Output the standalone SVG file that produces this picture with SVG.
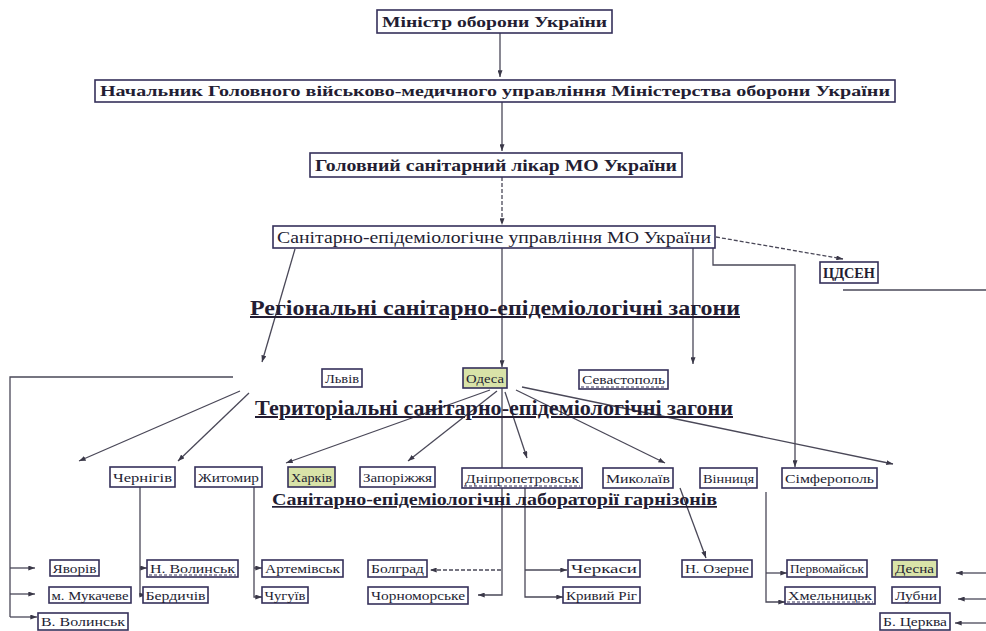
<svg xmlns="http://www.w3.org/2000/svg" width="986" height="631" viewBox="0 0 986 631">
<defs>
<marker id="ah" viewBox="0 0 8 6" refX="8" refY="3" markerWidth="7" markerHeight="5" markerUnits="userSpaceOnUse" orient="auto">
<path d="M0,0 L8,3 L0,6 z" fill="#3a3848"/>
</marker>
</defs>
<style>
.bx{fill:#ffffff;stroke:#35305a;stroke-width:1.6}
.hl{fill:#d9e3a8;stroke:#35305a;stroke-width:1.6}
.t{font-family:"Liberation Serif","DejaVu Serif",serif;fill:#231d33;text-anchor:middle}
.tb{font-weight:bold}
.h{font-family:"Liberation Serif","DejaVu Serif",serif;fill:#231d33;font-weight:bold;text-decoration:underline}
.ln{fill:none;stroke:#4a4858;stroke-width:1.3}
.ar{marker-end:url(#ah)}
.ds{stroke-dasharray:4,2}
.du{stroke:#35305a;stroke-width:1;stroke-dasharray:3,2}
</style>
<rect width="986" height="631" fill="#ffffff"/>

<g id="connectors">
<line class="ln ar" x1="500" y1="33" x2="500" y2="77"/>
<line class="ln ar" x1="502" y1="102" x2="502" y2="151"/>
<line class="ln ar ds" x1="502" y1="177" x2="502" y2="225"/>
<line class="ln ar" x1="295" y1="249" x2="262" y2="362"/>
<line class="ln ar" x1="502" y1="248" x2="502" y2="367"/>
<line class="ln ar" x1="693" y1="248" x2="693" y2="364"/>
<polyline class="ln ar" points="713,248 713,265 795,265 795,467"/>
<line class="ln ar ds" x1="716" y1="237" x2="843" y2="259"/>
<line class="ln" x1="843" y1="290" x2="986" y2="290"/>
<polyline class="ln" points="233,377 10,377 10,617"/>
<line class="ln ar" x1="10" y1="568" x2="35" y2="568"/>
<line class="ln ar" x1="10" y1="594" x2="35" y2="594"/>
<line class="ln ar" x1="10" y1="617" x2="37" y2="617"/>
<line class="ln ar" x1="240" y1="391" x2="79" y2="461"/>
<line class="ln ar" x1="249" y1="393" x2="178" y2="461"/>
<line class="ln ar" x1="490" y1="390" x2="286" y2="463"/>
<line class="ln ar" x1="497" y1="391" x2="408" y2="461"/>
<line class="ln ar" x1="505" y1="392" x2="527" y2="458"/>
<line class="ln ar" x1="516" y1="390" x2="665" y2="463"/>
<line class="ln ar" x1="522" y1="387" x2="893" y2="464"/>
<polyline class="ln ar" points="502,388 502,595 478,595"/>
<line class="ln ar ds" x1="501" y1="570" x2="430" y2="570"/>
<polyline class="ln ar" points="140,487 140,595 146,595"/>
<line class="ln ar" x1="140" y1="568" x2="147" y2="568"/>
<polyline class="ln ar" points="254,487 254,597 262,597"/>
<line class="ln ar" x1="254" y1="568" x2="262" y2="568"/>
<polyline class="ln ar" points="525,488 525,597 563,597"/>
<line class="ln ar" x1="525" y1="570" x2="567" y2="570"/>
<line class="ln ar" x1="680" y1="488" x2="706" y2="558"/>
<polyline class="ln ar" points="766,492 766,602 785,602"/>
<line class="ln ar" x1="766" y1="573" x2="787" y2="573"/>
<line class="ln ar" x1="986" y1="573" x2="956" y2="573"/>
<line class="ln ar" x1="986" y1="599" x2="958" y2="599"/>
<line class="ln ar" x1="986" y1="623" x2="955" y2="623"/>
</g>

<g id="n-minister"><rect class="bx" x="377" y="10" width="235" height="23"/><text class="t tb" x="494.5" y="27" font-size="15" textLength="225" lengthAdjust="spacingAndGlyphs">Міністр оборони України</text></g>
<g id="n-head"><rect class="bx" x="95" y="80" width="800" height="22"/><text class="t tb" x="495" y="96" font-size="15" textLength="790" lengthAdjust="spacingAndGlyphs">Начальник Головного військово-медичного управління Міністерства оборони України</text></g>
<g id="n-chief"><rect class="bx" x="310" y="153" width="372" height="24"/><text class="t tb" x="496" y="171" font-size="16" textLength="362" lengthAdjust="spacingAndGlyphs">Головний санітарний лікар МО України</text></g>
<g id="n-dept"><rect class="bx" x="273" y="226" width="442" height="22"/><text class="t" x="494" y="243" font-size="17" textLength="434" lengthAdjust="spacingAndGlyphs">Санітарно-епідеміологічне управління МО України</text></g>
<g id="n-cdsen"><rect class="bx" x="820" y="262" width="58" height="21"/><text class="t tb" x="849" y="278" font-size="14" textLength="52" lengthAdjust="spacingAndGlyphs">ЦДСЕН</text></g>

<g id="h-regional"><text class="h" x="250" y="315" font-size="20" textLength="490" lengthAdjust="spacingAndGlyphs">Регіональні санітарно-епідеміологічні загони</text></g>
<g id="h-territorial"><text class="h" x="255" y="415" font-size="20" textLength="478" lengthAdjust="spacingAndGlyphs">Територіальні санітарно-епідеміологічні загони</text></g>
<g id="h-labs"><text class="h" x="272" y="505" font-size="17" textLength="445" lengthAdjust="spacingAndGlyphs">Санітарно-епідеміологічні лабораторії гарнізонів</text></g>

<g id="n-lviv"><rect class="bx" x="322" y="369" width="40" height="18"/><text class="t" x="342" y="383" font-size="12" textLength="34" lengthAdjust="spacingAndGlyphs">Львів</text></g>
<g id="n-odesa"><rect class="hl" x="463" y="368" width="44" height="20"/><text class="t" x="485" y="383" font-size="12" textLength="38" lengthAdjust="spacingAndGlyphs">Одеса</text></g>
<g id="n-sevastopol"><rect class="bx" x="579" y="370" width="89" height="19"/><text class="t" x="623.5" y="384" font-size="12" textLength="83" lengthAdjust="spacingAndGlyphs">Севастополь</text><line class="du" x1="581" y1="387" x2="666" y2="387"/></g>

<g id="n-chernihiv"><rect class="bx" x="110" y="467" width="65" height="20"/><text class="t" x="142.5" y="482" font-size="13" textLength="59" lengthAdjust="spacingAndGlyphs">Чернігів</text></g>
<g id="n-zhytomyr"><rect class="bx" x="195" y="467" width="67" height="20"/><text class="t" x="228.5" y="482" font-size="13" textLength="61" lengthAdjust="spacingAndGlyphs">Житомир</text></g>
<g id="n-kharkiv"><rect class="hl" x="288" y="467" width="47" height="20"/><text class="t" x="311.5" y="482" font-size="13" textLength="41" lengthAdjust="spacingAndGlyphs">Харків</text></g>
<g id="n-zaporizhzhia"><rect class="bx" x="360" y="467" width="75" height="20"/><text class="t" x="397.5" y="482" font-size="13" textLength="69" lengthAdjust="spacingAndGlyphs">Запоріжжя</text></g>
<g id="n-dnipro"><rect class="bx" x="462" y="468" width="120" height="20"/><text class="t" x="522" y="483" font-size="13" textLength="114" lengthAdjust="spacingAndGlyphs">Дніпропетровськ</text><line class="du" x1="464" y1="486" x2="580" y2="486"/></g>
<g id="n-mykolaiv"><rect class="bx" x="603" y="468" width="70" height="20"/><text class="t" x="638" y="483" font-size="13" textLength="64" lengthAdjust="spacingAndGlyphs">Миколаїв</text></g>
<g id="n-vinnytsia"><rect class="bx" x="700" y="468" width="57" height="20"/><text class="t" x="728.5" y="483" font-size="13" textLength="51" lengthAdjust="spacingAndGlyphs">Вінниця</text></g>
<g id="n-simferopol"><rect class="bx" x="782" y="468" width="95" height="20"/><text class="t" x="829.5" y="483" font-size="13" textLength="89" lengthAdjust="spacingAndGlyphs">Сімферополь</text></g>

<g id="n-yavoriv"><rect class="bx" x="50" y="560" width="49" height="16"/><text class="t" x="74.5" y="573" font-size="12" textLength="44" lengthAdjust="spacingAndGlyphs">Яворів</text></g>
<g id="n-mukacheve"><rect class="bx" x="49" y="587" width="82" height="16"/><text class="t" x="90" y="600" font-size="12" textLength="77" lengthAdjust="spacingAndGlyphs">м. Мукачеве</text></g>
<g id="n-vvolynsk"><rect class="bx" x="38" y="613" width="90" height="17"/><text class="t" x="83" y="626" font-size="12" textLength="84" lengthAdjust="spacingAndGlyphs">В. Волинськ</text></g>
<g id="n-nvolynsk"><rect class="bx" x="147" y="560" width="91" height="17"/><text class="t" x="192.5" y="573" font-size="12" textLength="85" lengthAdjust="spacingAndGlyphs">Н. Волинськ</text><line class="du" x1="149" y1="575" x2="236" y2="575"/></g>
<g id="n-berdychiv"><rect class="bx" x="143" y="587" width="65" height="16"/><text class="t" x="175.5" y="600" font-size="12" textLength="60" lengthAdjust="spacingAndGlyphs">Бердичів</text></g>
<g id="n-artemivsk"><rect class="bx" x="262" y="560" width="81" height="17"/><text class="t" x="302.5" y="573" font-size="12" textLength="75" lengthAdjust="spacingAndGlyphs">Артемівськ</text></g>
<g id="n-chuhuiv"><rect class="bx" x="262" y="587" width="46" height="16"/><text class="t" x="285" y="600" font-size="12" textLength="41" lengthAdjust="spacingAndGlyphs">Чугуїв</text></g>
<g id="n-bolhrad"><rect class="bx" x="368" y="560" width="59" height="17"/><text class="t" x="397.5" y="573" font-size="12" textLength="53" lengthAdjust="spacingAndGlyphs">Болград</text></g>
<g id="n-chornomorske"><rect class="bx" x="368" y="587" width="100" height="17"/><text class="t" x="418" y="600" font-size="12" textLength="94" lengthAdjust="spacingAndGlyphs">Чорноморське</text></g>
<g id="n-cherkasy"><rect class="bx" x="568" y="560" width="72" height="17"/><text class="t" x="604" y="573" font-size="12" textLength="66" lengthAdjust="spacingAndGlyphs">Черкаси</text></g>
<g id="n-kryvyirih"><rect class="bx" x="563" y="587" width="77" height="16"/><text class="t" x="601.5" y="600" font-size="12" textLength="71" lengthAdjust="spacingAndGlyphs">Кривий Ріг</text></g>
<g id="n-nozerne"><rect class="bx" x="682" y="560" width="70" height="17"/><text class="t" x="717" y="573" font-size="12" textLength="64" lengthAdjust="spacingAndGlyphs">Н. Озерне</text></g>
<g id="n-pervomaisk"><rect class="bx" x="787" y="560" width="80" height="17"/><text class="t" x="827" y="573" font-size="12" textLength="74" lengthAdjust="spacingAndGlyphs">Первомайськ</text></g>
<g id="n-khmelnytsk"><rect class="bx" x="785" y="587" width="90" height="17"/><text class="t" x="830" y="600" font-size="12" textLength="84" lengthAdjust="spacingAndGlyphs">Хмельницьк</text><line class="du" x1="787" y1="602" x2="873" y2="602"/></g>
<g id="n-desna"><rect class="hl" x="892" y="560" width="45" height="17"/><text class="t" x="914.5" y="573" font-size="12" textLength="39" lengthAdjust="spacingAndGlyphs">Десна</text></g>
<g id="n-lubny"><rect class="bx" x="892" y="587" width="48" height="16"/><text class="t" x="916" y="600" font-size="12" textLength="42" lengthAdjust="spacingAndGlyphs">Лубни</text></g>
<g id="n-btserkva"><rect class="bx" x="880" y="613" width="70" height="17"/><text class="t" x="915" y="626" font-size="12" textLength="64" lengthAdjust="spacingAndGlyphs">Б. Церква</text></g>
</svg>
